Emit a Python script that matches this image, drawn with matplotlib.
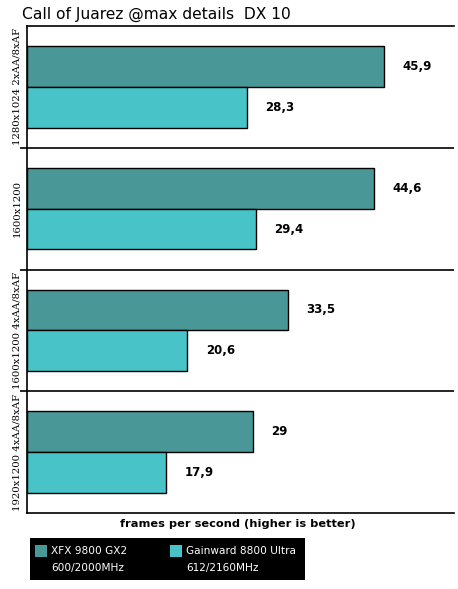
import matplotlib
matplotlib.use("Agg")
import matplotlib.pyplot as plt
from matplotlib.patches import Rectangle
from matplotlib.ticker import FixedLocator, NullFormatter
import numpy as np

categories = ["1280x1024 2xAA/8xAF", "1600x1200", "1600x1200 4xAA/8xAF", "1920x1200 4xAA/8xAF"]
series_names = ["XFX 9800 GX2\n600/2000MHz", "Gainward 8800 Ultra\n612/2160MHz"]
xfx_values = [45.9, 44.6, 33.5, 29.0]
gainward_values = [28.3, 29.4, 20.6, 17.9]
value_labels_xfx = ["45,9", "44,6", "33,5", "29"]
value_labels_gw = ["28,3", "29,4", "20,6", "17,9"]

colors = ["#4A9797", "#48C4C8"]

W, H = 458, 589
fig = plt.figure(figsize=(W / 100, H / 100), dpi=100)
fig.patch.set_facecolor("white")

ax_left, ax_right, ax_top, ax_bottom = 27, 454, 26, 513
ax = fig.add_axes([ax_left / W, 1 - ax_bottom / H, (ax_right - ax_left) / W, (ax_bottom - ax_top) / H])

y = np.arange(len(categories))
bh = 0.335
off = 0.168
ax.barh(y - off, xfx_values, height=bh, color=colors[0], edgecolor="black", linewidth=1.0, zorder=3)
ax.barh(y + off, gainward_values, height=bh, color=colors[1], edgecolor="black", linewidth=1.0, zorder=3)

xmax = 54.9
ax.set_xlim(0, xmax)
ax.set_ylim(len(categories) - 0.5, -0.5)

# value labels
px_per_unit = (ax_right - ax_left) / xmax
dx = 18.5 / px_per_unit
for i in range(len(categories)):
    ax.text(xfx_values[i] + dx, y[i] - off, value_labels_xfx[i], ha="left", va="center",
            fontsize=8.5, fontweight="bold", family="DejaVu Sans", zorder=4)
    ax.text(gainward_values[i] + dx, y[i] + off, value_labels_gw[i], ha="left", va="center",
            fontsize=8.5, fontweight="bold", family="DejaVu Sans", zorder=4)

# axes styling
ax.spines["right"].set_visible(False)
for s in ["left", "top", "bottom"]:
    ax.spines[s].set_linewidth(1.2)
    ax.spines[s].set_color("black")
ax.set_xticks([])
ax.set_yticks(y)
ax.set_yticklabels(categories, rotation=90, va="center", family="DejaVu Serif", fontsize=7.3)
ax.tick_params(axis="y", which="major", length=0, pad=4)
ax.yaxis.set_minor_locator(FixedLocator([0.5, 1.5, 2.5]))
ax.yaxis.set_minor_formatter(NullFormatter())
ax.tick_params(axis="y", which="minor", length=5, width=1.2, color="black")
ax.grid(which="minor", axis="y", color="black", linewidth=1.2, zorder=1)

# title
fig.text(22 / W, 1 - 14 / H, "Call of Juarez @max details  DX 10", ha="left", va="center",
         fontsize=11.2, family="DejaVu Sans")

# x label
fig.text(238 / W, 1 - 524 / H, "frames per second (higher is better)", ha="center", va="center",
         fontsize=8.2, fontweight="bold", family="DejaVu Sans")

# legend box
lx0, ly0, lx1, ly1 = 30, 538, 305, 580
fig.patches.append(Rectangle((lx0 / W, 1 - ly1 / H), (lx1 - lx0) / W, (ly1 - ly0) / H,
                             transform=fig.transFigure, facecolor="black", edgecolor="none"))
sw_x = [35, 170]
for k, name in enumerate(series_names):
    fig.patches.append(Rectangle((sw_x[k] / W, 1 - 557 / H), 12 / W, 12 / H,
                                 transform=fig.transFigure, facecolor=colors[k], edgecolor="none"))
    line1, line2 = name.split("\n")
    fig.text((sw_x[k] + 16) / W, 1 - 551 / H, line1, color="white", ha="left", va="center",
             fontsize=7.6, family="DejaVu Sans")
    fig.text((sw_x[k] + 16) / W, 1 - 568 / H, line2, color="white", ha="left", va="center",
             fontsize=7.6, family="DejaVu Sans")

fig.savefig("out.png", dpi=100, facecolor="white")
